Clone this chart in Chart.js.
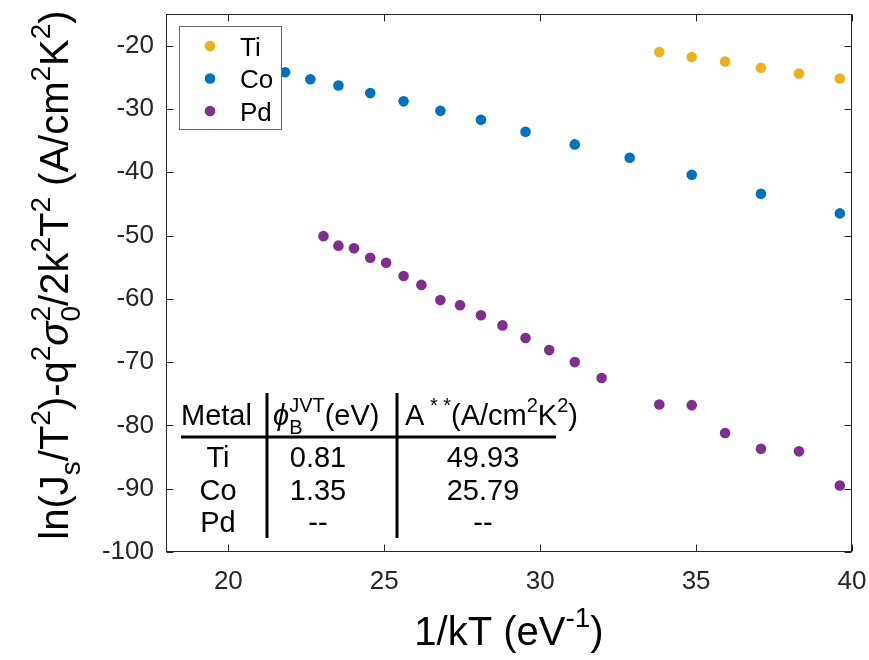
<!DOCTYPE html>
<html>
<head>
<meta charset="utf-8">
<script src="https://cdn.jsdelivr.net/npm/chart.js@4"></script>
<style>
  html, body { margin: 0; padding: 0; background: #fff; }
  #wrap { width: 869px; height: 660px; }
</style>
</head>
<body>
<div id="wrap"><canvas id="c" width="869" height="660"></canvas></div>
<script>
// tick labels
const xTicks = [20, 25, 30, 35, 40];
const yTicks = [-100, -90, -80, -70, -60, -50, -40, -30, -20];

// series (1/kT in eV^-1)
const tiX = [33.82, 34.86, 35.93, 37.08, 38.30, 39.61];
const tiY = [-21.0, -21.8, -22.5, -23.5, -24.4, -25.2];

const coX = [21.82, 22.63, 23.53, 24.55, 25.62, 26.80, 28.10, 29.53, 31.11, 32.87, 34.86, 37.08, 39.61];
const coY = [-24.2, -25.3, -26.3, -27.5, -28.8, -30.3, -31.7, -33.6, -35.6, -37.7, -40.4, -43.4, -46.5];

const pdX = [23.05, 23.53, 24.03, 24.55, 25.06, 25.62, 26.19, 26.80, 27.43, 28.10, 28.79,
             29.53, 30.29, 31.11, 31.97, 33.82, 34.86, 35.93, 37.08, 38.30, 39.61];
const pdY = [-50.1, -51.6, -52.0, -53.5, -54.3, -56.4, -57.8, -60.2, -61.0, -62.6, -64.2,
             -66.2, -68.1, -70.0, -72.5, -76.7, -76.8, -81.2, -83.7, -84.1, -89.5];

const seriesNames = ['Ti', 'Co', 'Pd'];
const seriesColors = ['#EDB120', '#0072BD', '#7E2F8E'];

// inset table
const tableMetals = ['Ti', 'Co', 'Pd'];
const tablePhi = ['0.81', '1.35', '--'];
const tableA = ['49.93', '25.79', '--'];

const FONT = '"Liberation Sans", Arial, Helvetica, sans-serif';
const AXIS_COLOR = '#262626';

function toPoints(xs, ys) {
  return xs.map((x, i) => ({ x: x, y: ys[i] }));
}

// draws text with sub/superscripts, returns width
function rich(ctx, parts, x, y, size, draw) {
  let cx = x;
  const small = Math.round(size * 0.7);
  parts.forEach(p => {
    if (p.t) {
      ctx.font = (p.it ? 'italic ' : '') + size + 'px ' + FONT;
      if (draw) ctx.fillText(p.t, cx, y);
      cx += ctx.measureText(p.t).width;
    }
    let sw = 0;
    ctx.font = small + 'px ' + FONT;
    if (p.sub) {
      if (draw) ctx.fillText(p.sub, cx, y + size * 0.3);
      sw = ctx.measureText(p.sub).width;
    }
    if (p.sup) {
      if (draw) ctx.fillText(p.sup, cx, y - size * 0.45);
      sw = Math.max(sw, ctx.measureText(p.sup).width);
    }
    cx += sw;
  });
  return cx - x;
}

function richCentered(ctx, parts, x, y, size) {
  const w = rich(ctx, parts, 0, 0, size, false);
  rich(ctx, parts, x - w / 2, y, size, true);
}

const yLabel = [
  { t: 'ln(J', sub: 's' }, { t: '/T', sup: '2' }, { t: ')-q', sup: '2' },
  { t: 'σ', it: true, sub: '0', sup: '2' }, { t: '/2k', sup: '2' }, { t: 'T', sup: '2' },
  { t: ' (A/cm', sup: '2' }, { t: 'K', sup: '2' }, { t: ')' }
];
const xLabel = [{ t: '1/kT (eV', sup: '-1' }, { t: ')' }];

const decor = {
  id: 'decor',
  afterDraw(chart) {
    const ctx = chart.ctx;
    const a = chart.chartArea;
    const xs = chart.scales.x, ys = chart.scales.y;
    ctx.save();

    // box + inward ticks on all sides
    ctx.strokeStyle = AXIS_COLOR;
    ctx.lineWidth = 1;
    const L = Math.round(a.left) + 0.5, R = Math.round(a.right) - 0.5;
    const T = Math.round(a.top) + 0.5, B = Math.round(a.bottom) - 0.5;
    ctx.strokeRect(L, T, R - L, B - T);
    ctx.beginPath();
    xTicks.forEach(v => {
      const px = Math.round(xs.getPixelForValue(v)) + 0.5;
      ctx.moveTo(px, B); ctx.lineTo(px, B - 7);
      ctx.moveTo(px, T); ctx.lineTo(px, T + 7);
    });
    yTicks.forEach(v => {
      const py = Math.round(ys.getPixelForValue(v)) + 0.5;
      ctx.moveTo(L, py); ctx.lineTo(L + 7, py);
      ctx.moveTo(R, py); ctx.lineTo(R - 7, py);
    });
    ctx.stroke();

    // axis titles
    ctx.fillStyle = '#000';
    ctx.textAlign = 'left';
    ctx.textBaseline = 'alphabetic';
    richCentered(ctx, xLabel, (a.left + a.right) / 2, 645, 40);
    ctx.save();
    ctx.translate(68, 275);
    ctx.rotate(-Math.PI / 2);
    richCentered(ctx, yLabel, 0, 0, 40);
    ctx.restore();

    // legend
    ctx.fillStyle = '#fff';
    ctx.fillRect(179.5, 26.5, 102, 103);
    ctx.strokeStyle = '#666';
    ctx.strokeRect(179.5, 26.5, 102, 103);
    const legY = [46, 78.5, 111];
    seriesNames.forEach((n, i) => {
      ctx.fillStyle = seriesColors[i];
      ctx.beginPath();
      ctx.arc(210, legY[i], 5.3, 0, Math.PI * 2);
      ctx.fill();
      ctx.fillStyle = '#000';
      ctx.font = '26px ' + FONT;
      ctx.fillText(n, 240, legY[i] + 9.5);
    });

    // inset table
    ctx.fillStyle = '#000';
    ctx.font = '29px ' + FONT;
    ctx.fillText('Metal', 181, 425);
    rich(ctx, [{ t: 'ϕ', it: true, sub: 'B', sup: 'JVT' }, { t: '(eV)' }], 273, 425, 29, true);
    rich(ctx, [{ t: 'A', sup: ' * *' }, { t: '(A/cm', sup: '2' }, { t: 'K', sup: '2' }, { t: ')' }], 405, 425, 29, true);
    ctx.textAlign = 'center';
    ctx.font = '29px ' + FONT;
    const rowY = [467, 499.5, 532];
    tableMetals.forEach((m, i) => {
      ctx.fillText(m, 218, rowY[i]);
      ctx.fillText(tablePhi[i], 318, rowY[i]);
      ctx.fillText(tableA[i], 483, rowY[i]);
    });
    ctx.lineWidth = 3;
    ctx.strokeStyle = '#000';
    ctx.beginPath();
    ctx.moveTo(181, 437); ctx.lineTo(556, 437);
    ctx.moveTo(267, 393); ctx.lineTo(267, 538);
    ctx.moveTo(397, 393); ctx.lineTo(397, 538);
    ctx.stroke();

    ctx.restore();
  }
};

function dataset(i, xs, ys) {
  return {
    label: seriesNames[i],
    data: toPoints(xs, ys),
    backgroundColor: seriesColors[i],
    borderColor: seriesColors[i],
    pointRadius: 5.3,
    pointHoverRadius: 5.3,
    pointBorderWidth: 0,
    showLine: false
  };
}

new Chart(document.getElementById('c'), {
  type: 'scatter',
  data: {
    datasets: [dataset(0, tiX, tiY), dataset(1, coX, coY), dataset(2, pdX, pdY)]
  },
  options: {
    responsive: false,
    animation: false,
    layout: { padding: { left: 0, right: 17, top: 14, bottom: 0 } },
    plugins: { legend: { display: false }, tooltip: { enabled: false } },
    scales: {
      x: {
        type: 'linear', min: 18, max: 40,
        afterBuildTicks: s => { s.ticks = xTicks.map(v => ({ value: v })); },
        afterFit: s => { s.height = 108; s.paddingLeft = 0; s.paddingRight = 0; },
        grid: { display: false, drawTicks: false },
        border: { display: false },
        ticks: { font: { family: FONT, size: 26 }, color: AXIS_COLOR, padding: 14, maxRotation: 0 }
      },
      y: {
        type: 'linear', min: -100, max: -15,
        afterBuildTicks: s => { s.ticks = yTicks.map(v => ({ value: v })); },
        afterFit: s => { s.width = 166; s.paddingTop = 0; s.paddingBottom = 0; },
        grid: { display: false, drawTicks: false },
        border: { display: false },
        ticks: { font: { family: FONT, size: 26 }, color: AXIS_COLOR, padding: 12 }
      }
    }
  },
  plugins: [decor]
});
</script>
</body>
</html>
